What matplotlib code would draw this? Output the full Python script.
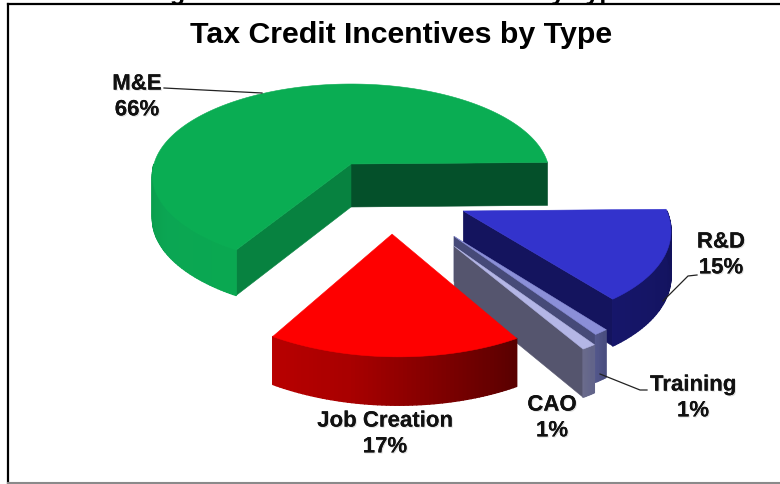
import numpy as np
import matplotlib
matplotlib.use('Agg')
import matplotlib.pyplot as plt
import matplotlib.patheffects as pe
from matplotlib.collections import PolyCollection
from matplotlib.colors import to_rgb

plt.rcParams['font.family'] = ['Liberation Sans', 'DejaVu Sans']

# Данные
names = ['M&E', 'Job Creation', 'CAO', 'Training', 'R&D']
shares = [66, 17, 1, 1, 15]

# сдвиг секторов от центра (в плоскости круга) и их радиус
explode = {'M&E': (0, 0), 'Job Creation': (0.19, -0.71), 'CAO': (0.47, -0.82),
           'Training': (0.475, -0.73), 'R&D': (0.535, -0.49)}
radius = {'M&E': 1.0, 'Job Creation': 0.98, 'CAO': 0.94, 'Training': 0.96, 'R&D': 0.97}

# top, стенка у начала, стенка у конца, градиент внешней стенки
colors = {
    'M&E': ('#0aad53', '#04502a', '#078240', ['#0a9a4b', '#0ba653', '#0aa851']),
    'Job Creation': ('#fe0000', '#600000', '#600000', ['#b80000', '#a80000', '#800000', '#5a0000']),
    'CAO': ('#b4b6e6', '#55556e', '#55556e', ['#6a6b8c', '#62648a']),
    'Training': ('#8b8fd8', '#464a78', '#464a78', ['#54588c', '#4a4e80']),
    'R&D': ('#3333cc', '#14145e', '#14145e', ['#16166a', '#12125a']),
}
draw_order = ['M&E', 'R&D', 'Training', 'CAO', 'Job Creation']

x0, y0 = 351, 165      # центр круга на картинке
fx, fy = 197, 90       # полуоси
p = 0.125              # перспектива
start_angle = 1.0


def project(X, Y):
    w = 1 + p * np.asarray(Y, dtype=float)
    return x0 + fx * np.asarray(X) / w, y0 - fy * np.asarray(Y) / w


def drop(Y):
    # толщина круга в пикселях, ближе к зрителю чуть больше
    return 43 / np.sqrt(1 + p * np.asarray(Y, dtype=float))


def lerp_colors(stops, n):
    rgb = np.array([to_rgb(c) for c in stops])
    t = np.linspace(0, 1, n)
    pos = np.linspace(0, 1, len(stops))
    return np.column_stack([np.interp(t, pos, rgb[:, i]) for i in range(3)])


def cut_wall(ax, dx, dy, r, angle, color):
    a = np.radians(angle)
    X = np.array([dx, dx + r * np.cos(a)])
    Y = np.array([dy, dy + r * np.sin(a)])
    sx, sy = project(X, Y)
    d = drop(Y)
    ax.fill([sx[0], sx[1], sx[1], sx[0]], [sy[0], sy[1], sy[1] + d[1], sy[0] + d[0]],
            color=color, lw=0.4)


def draw_slice(ax, name, t0, t1):
    dx, dy = explode[name]
    r = radius[name]
    top, wall0, wall1, stops = colors[name]
    if np.cos(np.radians(t0)) > 0:
        cut_wall(ax, dx, dy, r, t0, wall0)
    if np.cos(np.radians(t1)) < 0:
        cut_wall(ax, dx, dy, r, t1, wall1)

    th = np.radians(np.linspace(t0, t1, max(int(t1 - t0), 8)))
    X, Y = dx + r * np.cos(th), dy + r * np.sin(th)
    sx, sy = project(X, Y)
    d = drop(Y)

    # внешняя стенка видна только спереди
    front = np.sin(th) < 0
    quads, idx = [], np.where(front)[0]
    for i, j in zip(idx[:-1], idx[1:]):
        quads.append([(sx[i], sy[i]), (sx[j], sy[j]), (sx[j], sy[j] + d[j]), (sx[i], sy[i] + d[i])])
    if quads:
        c = lerp_colors(stops, len(quads))
        ax.add_collection(PolyCollection(quads, facecolors=c, edgecolors=c, linewidths=1.0))

    ax_, ay_ = project(dx, dy)
    ax.fill(np.r_[ax_, sx], np.r_[ay_, sy], color=top, lw=0.4)


fig = plt.figure(figsize=(7.8, 4.85), dpi=100)
ax = fig.add_axes([0, 0, 1, 1])
ax.set_xlim(0, 780)
ax.set_ylim(485, 0)
ax.axis('off')

# обрезанная строка над рамкой
ax.text(178, 0, 'g', ha='center', va='baseline', fontsize=18, fontweight='bold', color='black')
ax.text(629, 0, 'by Type', ha='right', va='baseline', fontsize=18, fontweight='bold', color='black')

# рамка
ax.plot([8, 8], [5, 485], color='black', lw=1.6)
ax.plot([8, 780], [5, 5], color='black', lw=1.6)
ax.plot([8, 780], [484, 484], color='#8a8a8a', lw=1.5)

# границы секторов
edges = start_angle + np.r_[0, np.cumsum(shares)] * 3.6
bounds = {n: (edges[i], edges[i + 1]) for i, n in enumerate(names)}
for n in draw_order:
    draw_slice(ax, n, *bounds[n])

# выноски
for lx, ly in [([164, 262], [89, 94]), ([697, 688, 663], [276, 277, 302]), ([647, 640, 600], [391, 391, 375])]:
    ax.plot(lx, ly, color='#222222', lw=0.9)

shadow = [pe.withSimplePatchShadow(offset=(0.8, -0.8), shadow_rgbFace='#999999', alpha=0.3), pe.Normal()]
ax.text(401, 35, 'Tax Credit Incentives by Type', ha='center', va='center', fontsize=21.8,
        fontweight='bold', color='black')
labels = [('M&E\n66%', 137, 98), ('R&D\n15%', 721, 256), ('Training\n1%', 693, 399),
          ('CAO\n1%', 552, 419), ('Job Creation\n17%', 385, 435)]
for txt, tx, ty in labels:
    t = ax.text(tx, ty, txt, ha='center', va='center', fontsize=16, fontweight='bold',
                color='#111111', linespacing=1.3)
    t.set_path_effects(shadow)

fig.savefig('out.png', dpi=100)
